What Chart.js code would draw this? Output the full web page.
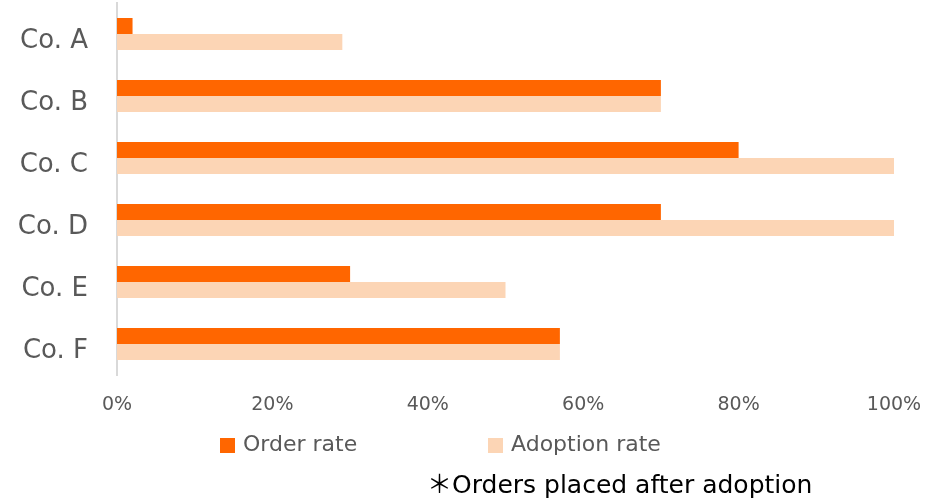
<!DOCTYPE html>
<html>
<head>
<meta charset="utf-8">
<script src="https://cdn.jsdelivr.net/npm/chart.js@4/dist/chart.umd.min.js"></script>
<style>
  html, body { margin: 0; padding: 0; background: #ffffff; }
  #wrap { width: 941px; height: 499px; }
</style>
</head>
<body>
<div id="wrap"><canvas id="rates"></canvas></div>
<script>
const companies = ['Co. A', 'Co. B', 'Co. C', 'Co. D', 'Co. E', 'Co. F'];
const orderRate = [2, 70, 80, 70, 30, 57];
const adoptionRate = [29, 70, 100, 100, 50, 57];
const percentTicks = [0, 20, 40, 60, 80, 100];
const footnote = '＊Orders placed after adoption';

const FONT = '"DejaVu Sans", Verdana, "Noto Sans CJK JP", sans-serif';

// legend + footnote drawn under the axis
const bottomNotes = {
  id: 'bottomNotes',
  afterDraw(chart) {
    const ctx = chart.ctx;
    const ds = chart.data.datasets;
    const xs = [220, 488];
    ctx.save();
    ctx.font = '22px ' + FONT;
    ctx.textBaseline = 'middle';
    ds.forEach((d, i) => {
      ctx.fillStyle = d.backgroundColor;
      ctx.fillRect(xs[i], 438, 15, 15);
      ctx.fillStyle = '#595959';
      ctx.fillText(d.label, xs[i] + 23, 445);
    });
    ctx.fillStyle = '#000000';
    ctx.font = '25px ' + FONT;
    ctx.textBaseline = 'alphabetic';
    ctx.fillText(footnote, 427, 493);
    ctx.restore();
  }
};

new Chart(document.getElementById('rates'), {
  type: 'bar',
  data: {
    labels: companies,
    datasets: [
      {
        label: 'Order rate',
        data: orderRate,
        backgroundColor: '#FF6600',
        borderWidth: 0,
        barPercentage: 1,
        categoryPercentage: 0.516
      },
      {
        label: 'Adoption rate',
        data: adoptionRate,
        backgroundColor: '#FCD5B5',
        borderWidth: 0,
        barPercentage: 1,
        categoryPercentage: 0.516
      }
    ]
  },
  options: {
    indexAxis: 'y',
    responsive: true,
    maintainAspectRatio: false,
    animation: false,
    layout: { padding: { top: 3, right: 47, bottom: 0, left: 0 } },
    plugins: {
      legend: { display: false },
      tooltip: { enabled: false }
    },
    scales: {
      x: {
        min: 0,
        max: 100,
        afterFit(scale) { scale.height = 124; },
        afterBuildTicks(scale) {
          scale.ticks = percentTicks.map(v => ({ value: v }));
        },
        grid: { display: false, drawTicks: false },
        border: { display: false },
        ticks: {
          padding: 19,
          color: '#595959',
          font: { family: FONT, size: 19 },
          callback: v => v + '%'
        }
      },
      y: {
        afterFit(scale) {
          scale.width = 117;
          scale.paddingTop = 0;
          scale.paddingBottom = 0;
        },
        grid: { display: false, drawTicks: false },
        border: { display: true, color: '#D9D9D9', width: 2 },
        ticks: {
          padding: 29,
          labelOffset: 7,
          color: '#595959',
          font: { family: FONT, size: 26 }
        }
      }
    }
  },
  plugins: [bottomNotes]
});
</script>
</body>
</html>
